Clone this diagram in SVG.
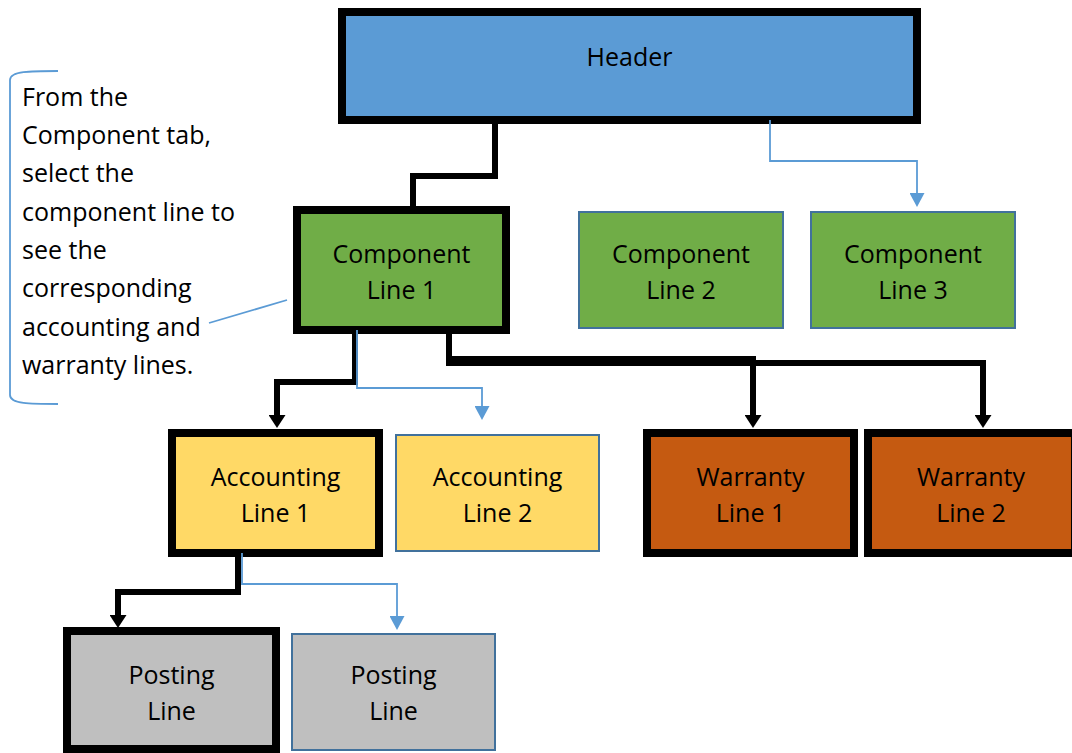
<svg xmlns="http://www.w3.org/2000/svg" width="1072" height="753" viewBox="0 0 1072 753">
<style>
text{font-family:"Open Sans","Liberation Sans",sans-serif;font-size:25px;fill:#000;text-anchor:middle}
.note{text-anchor:start}
.thick{stroke:#000;stroke-width:8}
.thin{stroke:#41719C;stroke-width:2}
.hdr{fill:#5B9BD5}.grn{fill:#70AD47}.yel{fill:#FFD966}.org{fill:#C55A11}.gry{fill:#BFBFBF}
.bk{fill:none;stroke:#000;stroke-width:6}
.bl{fill:none;stroke:#5B9BD5;stroke-width:1.8}
</style>
<defs>
<marker id="ab" markerUnits="userSpaceOnUse" markerWidth="13" markerHeight="17" refX="0" refY="8.5" orient="auto"><path d="M0,0 L13,8.5 L0,17 z" fill="#000"/></marker>
<marker id="au" markerUnits="userSpaceOnUse" markerWidth="14" markerHeight="15" refX="0" refY="7.5" orient="auto"><path d="M0,0 L14,7.5 L0,15 z" fill="#5B9BD5"/></marker>
</defs>
<rect width="1072" height="753" fill="#fff"/>
<g id="header"><rect class="thick hdr" x="342" y="12" width="575" height="108"/><text x="629.5" y="66">Header</text></g>
<g id="comp1"><rect class="thick grn" x="297" y="210" width="209" height="120"/><text x="401.5" y="263">Component</text><text x="401.5" y="299">Line 1</text></g>
<g id="comp2"><rect class="thin grn" x="579" y="212" width="204" height="116"/><text x="681" y="263">Component</text><text x="681" y="299">Line 2</text></g>
<g id="comp3"><rect class="thin grn" x="811" y="212" width="204" height="116"/><text x="913" y="263">Component</text><text x="913" y="299">Line 3</text></g>
<g id="acc1"><rect class="thick yel" x="172" y="433" width="207" height="120"/><text x="275.5" y="486">Accounting</text><text x="275.5" y="522">Line 1</text></g>
<g id="acc2"><rect class="thin yel" x="396" y="435" width="203" height="116"/><text x="497.5" y="486">Accounting</text><text x="497.5" y="522">Line 2</text></g>
<g id="war1"><rect class="thick org" x="647" y="433" width="207" height="120"/><text x="750.5" y="486">Warranty</text><text x="750.5" y="522">Line 1</text></g>
<g id="war2"><rect class="thick org" x="868" y="433" width="207" height="120"/><text x="971" y="486">Warranty</text><text x="971" y="522">Line 2</text></g>
<g id="post1"><rect class="thick gry" x="67" y="631" width="209" height="118"/><text x="171.5" y="684">Posting</text><text x="171.5" y="720">Line</text></g>
<g id="post2"><rect class="thin gry" x="292" y="634" width="203" height="116"/><text x="393.5" y="684">Posting</text><text x="393.5" y="720">Line</text></g>
<g id="note">
<text class="note" x="22" y="106">From the</text>
<text class="note" x="22" y="144">Component tab,</text>
<text class="note" x="22" y="182">select the</text>
<text class="note" x="22" y="221">component line to</text>
<text class="note" x="22" y="259">see the</text>
<text class="note" x="22" y="297">corresponding</text>
<text class="note" x="22" y="336">accounting and</text>
<text class="note" x="22" y="374">warranty lines.</text>
</g>
<g id="connectors">
<path class="bl" d="M58,71 C30,71 10,71 10,80 V395 C10,404 30,404 58,404"/>
<path class="bl" d="M209,323 L287,300"/>
<path class="bk" d="M495,124 V176 H413 V207"/>
<path class="bk" d="M355,334 V382 H277 V415" marker-end="url(#ab)"/>
<path class="bk" d="M449,334 V359 H753 V415" marker-end="url(#ab)"/>
<path class="bk" d="M449,334 V363 H983 V415" marker-end="url(#ab)"/>
<path class="bk" d="M238,557 V592 H118 V615" marker-end="url(#ab)"/>
<path class="bl" d="M770,120 V161 H917 V193" marker-end="url(#au)"/>
<path class="bl" d="M357,330 V388 H482 V406" marker-end="url(#au)"/>
<path class="bl" d="M242,553 V584 H397 V616" marker-end="url(#au)"/>
</g>
</svg>
